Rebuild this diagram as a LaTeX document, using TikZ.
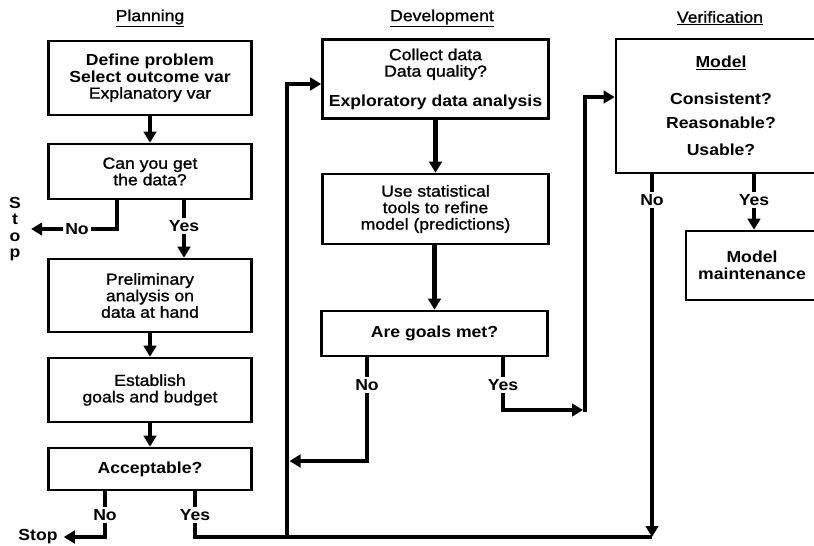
\documentclass[tikz,border=0pt]{standalone}
\usepackage{fontspec}
\setmainfont{Liberation Sans}[FakeStretch=1.1, UprightFeatures={FakeBold=1.2}]
\usetikzlibrary{arrows.meta}

\begin{document}
\begin{tikzpicture}[x=1pt, y=-1pt,
    every node/.style={font=\fontsize{16}{16.5}\selectfont},
    box/.style={draw, line width=2.6pt, align=center, inner sep=3pt},
    heavy/.style={font=\fontsize{16}{16.5}\selectfont\bfseries},
    link/.style={line width=4.8pt},
    flow/.style={line width=4.8pt, -{Triangle[length=11pt, width=12.5pt]}},
    tag/.style={heavy, inner sep=2pt}]
    \clip (0,0) rectangle (814,546);
    %%Tiêu đề
    \node (h1) at (150,18) {\underline{Planning}};
    \node (h2) at (442,18) {\underline{Development}};
    \node (h3) at (720,18) {\underline{Verification}};
    %%Cột 1
    \node[box, minimum width=203pt, minimum height=74pt] (p1) at (150,78)
        {{\bfseries Define problem}\\{\bfseries Select outcome var}\\Explanatory var};
    \node[box, minimum width=203pt, minimum height=55pt] (p2) at (150,171.5)
        {Can you get\\the data?};
    \node[box, minimum width=203pt, minimum height=73pt] (p3) at (150,295.5)
        {Preliminary\\analysis on\\data at hand};
    \node[box, minimum width=203pt, minimum height=64pt] (p4) at (150,390)
        {Establish\\goals and budget};
    \node[box, heavy, minimum width=203pt, minimum height=42pt] (p5) at (150,469)
        {Acceptable?};
    \draw[flow] (p1) -- (p2);
    \draw[flow] (p3) -- (p4);
    \draw[flow] (p4) -- (p5);
    %%Nhánh No/Yes cột 1
    \node[tag] (no2) at (77,229) {No};
    \node[tag, align=center] (stop1) at (15,229) {S\\t\\o\\p};
    \coordinate (k2) at (117,229);
    \draw[link] (p2.south -| k2) -- (k2) -- (no2.east);
    \draw[flow, shorten >=8pt] (no2.west) -- (stop1.east);
    \node[tag] (yes2) at (184,226) {Yes};
    \draw[link] (p2.south -| yes2) -- (yes2.north);
    \draw[flow] (yes2.south) -- (p3.north -| yes2);
    \node[tag] (no5) at (105,515) {No};
    \node[tag] (stop2) at (38,537) {Stop};
    \draw[link] (p5.south -| no5) -- (no5.north);
    \draw[flow, shorten >=4pt] (no5.south) |- (stop2.east);
    \node[tag] (yes5) at (195,515) {Yes};
    \coordinate (k8) at (287,537);
    \coordinate (k9) at (652,537);
    \draw[link] (p5.south -| yes5) -- (yes5.north);
    \draw[link] (yes5.south) |- (k9);
    %%Cột 2
    \node[box, minimum width=226pt, minimum height=79pt] (d1) at (435.5,79)
        {Collect data\\Data quality?\\[13pt]{\bfseries Exploratory data analysis}};
    \node[box, minimum width=226pt, minimum height=70pt] (d2) at (435.5,209)
        {Use statistical\\tools to refine\\model (predictions)};
    \node[box, heavy, minimum width=226pt, minimum height=45pt] (d3) at (434.5,333.5)
        {Are goals met?};
    \draw[flow] (k8) |- ([yshift=-5pt]d1.west);
    \draw[flow] (d1) -- (d2);
    \draw[flow] (d2.south -| d3) -- (d3);
    \node[tag] (no3) at (367,385) {No};
    \node[tag] (yes3) at (503,385) {Yes};
    \coordinate (k7) at (289.5,461);
    \coordinate (k6) at (585,410);
    \draw[link] (d3.south -| no3) -- (no3.north);
    \draw[flow] (no3.south) |- (k7);
    \draw[link] (d3.south -| yes3) -- (yes3.north);
    \draw[flow] (yes3.south) |- ([xshift=-2pt]k6);
    %%Cột 3
    \node[box, heavy, minimum width=210pt, minimum height=134pt] (v1) at (721,106)
        {\underline{Model}\\[20pt]Consistent?\\[8pt]Reasonable?\\[10pt]Usable?};
    \node[box, heavy, minimum width=132pt, minimum height=69pt] (v2) at (752,265.5)
        {Model\\maintenance};
    \draw[flow] ([yshift=-2.4pt]k6) |- ([yshift=9pt]v1.west);
    \node[tag] (no6) at (652,200) {No};
    \node[tag] (yes6) at (754,200) {Yes};
    \draw[link] (v1.south -| no6) -- (no6.north);
    \draw[flow] (no6.south) -- (k9);
    \draw[link] (v1.south -| yes6) -- (yes6.north);
    \draw[flow] (yes6.south) -- (v2.north -| yes6);
\end{tikzpicture}
\end{document}
